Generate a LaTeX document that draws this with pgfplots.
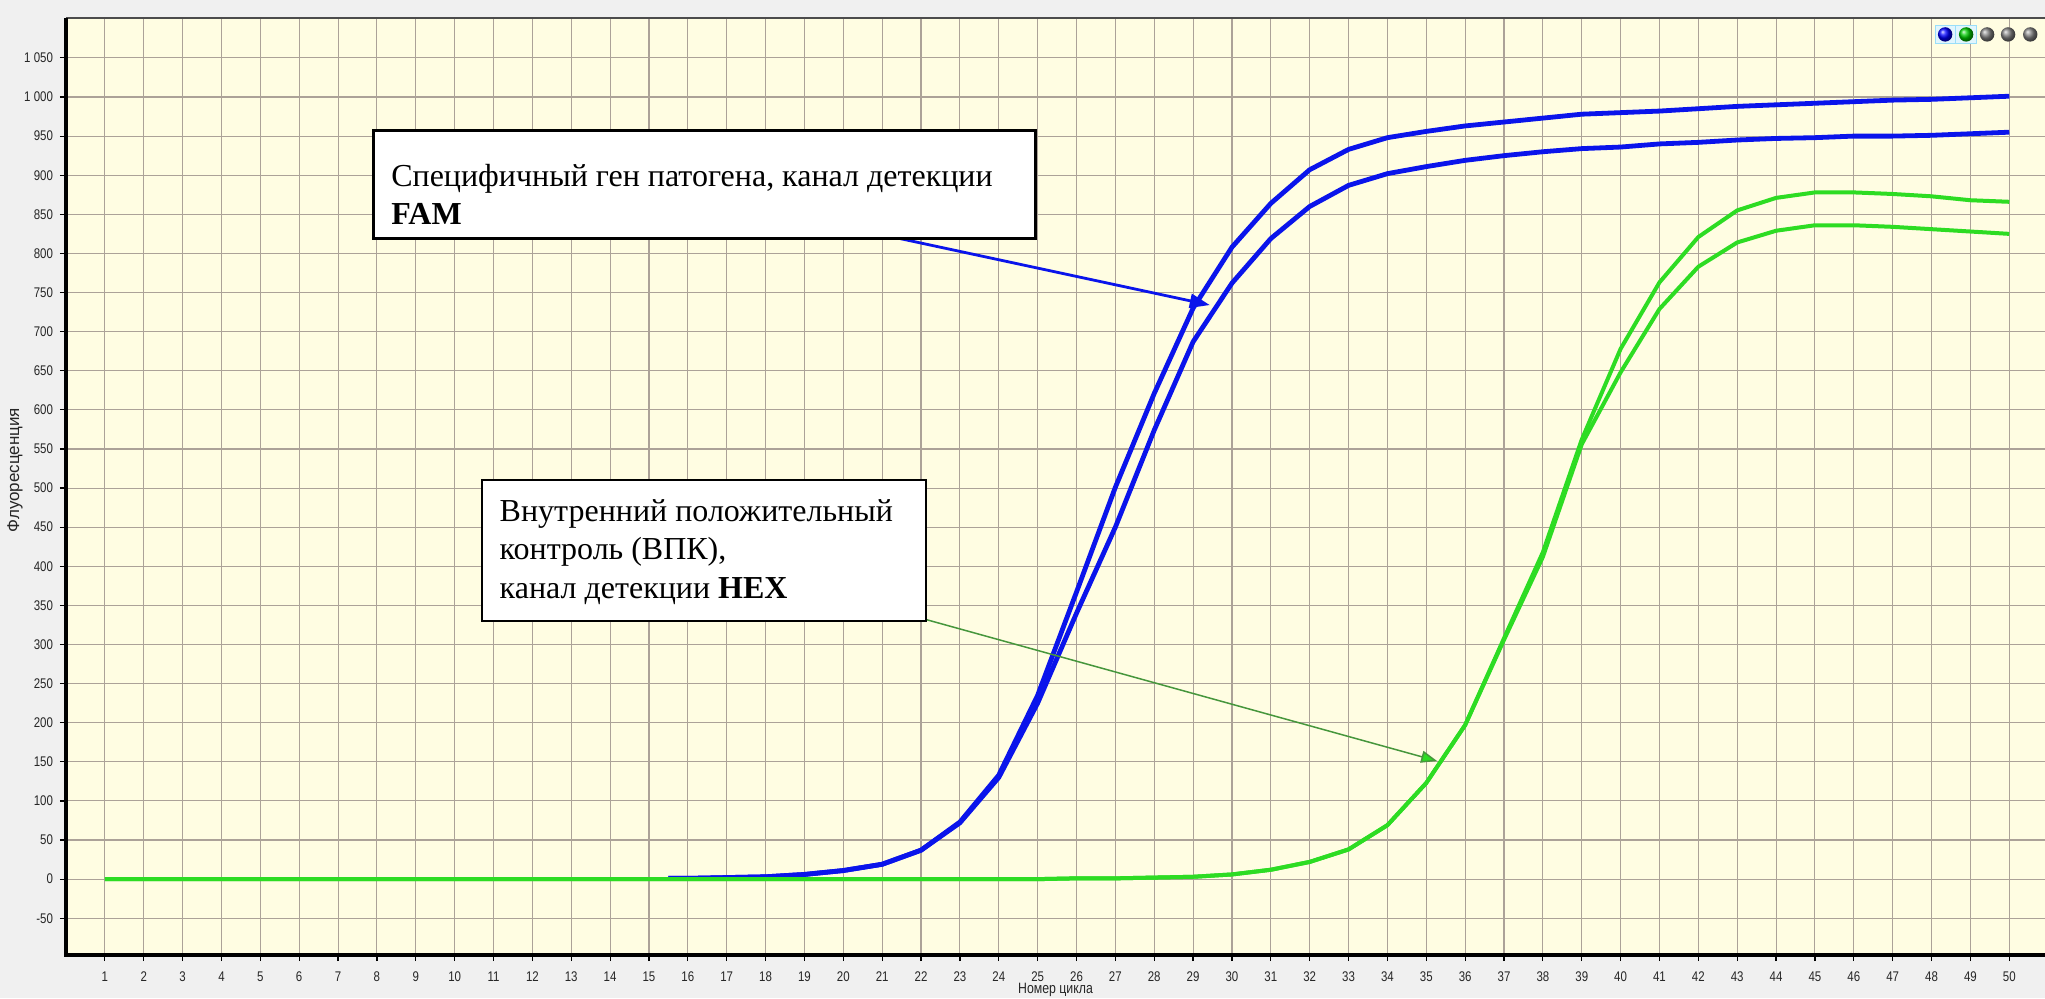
\documentclass[border=0pt]{standalone}
\usepackage{pgfplots}
\pgfplotsset{compat=1.18}
\usepackage{fontspec}
\usetikzlibrary{arrows.meta}
\setmainfont{Liberation Serif}
\newfontfamily\tickfont[FakeStretch=0.82]{Liberation Sans}
\newfontfamily\labfont{Liberation Sans}

\definecolor{pagebg}{RGB}{240,240,240}
\definecolor{plotbg}{RGB}{255,253,226}
\definecolor{gridc}{RGB}{172,162,152}
\definecolor{famblue}{RGB}{10,20,235}
\definecolor{hexgreen}{RGB}{45,220,35}
\definecolor{arrowgreen}{RGB}{70,150,60}

% FAM channel, two samples
\pgfplotstableread{
cycle value
15.5 1
16 1
17 2
18 3
19 6
20 11
21 19
22 37
23 73
24 133
25 235
26 367
27 501
28 621
29 730
30 808
31 864
32 907
33 933
34 948
35 956
36 963
37 968
38 973
39 978
40 980
41 982
42 985
43 988
44 990
45 992
46 994
47 996
48 997
49 999
50 1001
}\famA
\pgfplotstableread{
cycle value
15.5 1
16 1
17 2
18 3
19 6
20 11
21 19
22 37
23 72
24 130
25 225
26 340
27 450
28 574
29 687
30 762
31 819
32 860
33 887
34 902
35 911
36 919
37 925
38 930
39 934
40 936
41 940
42 942
43 945
44 947
45 948
46 950
47 950
48 951
49 953
50 955
}\famB
% HEX channel (internal positive control), two samples
\pgfplotstableread{
cycle value
1 0
2 0
3 0
4 0
5 0
6 0
7 0
8 0
9 0
10 0
11 0
12 0
13 0
14 0
15 0
16 0
17 0
18 0
19 0
20 0
21 0
22 0
23 0
24 0
25 0
26 1
27 1
28 2
29 3
30 6
31 12
32 22
33 38
34 69
35 123
36 197
37 308
38 418
39 562
40 678
41 763
42 821
43 855
44 871
45 878
46 878
47 876
48 873
49 868
50 866
}\hexA
\pgfplotstableread{
cycle value
1 0
2 0
3 0
4 0
5 0
6 0
7 0
8 0
9 0
10 0
11 0
12 0
13 0
14 0
15 0
16 0
17 0
18 0
19 0
20 0
21 0
22 0
23 0
24 0
25 0
26 1
27 1
28 2
29 3
30 6
31 12
32 22
33 38
34 69
35 123
36 197
37 306
38 412
39 556
40 648
41 729
42 783
43 814
44 829
45 836
46 836
47 834
48 831
49 828
50 825
}\hexB

\begin{document}
\begin{tikzpicture}
\fill[pagebg] (0,0) rectangle (1022.5pt,499pt);
\begin{axis}[
  at={(33pt,21.5pt)}, anchor=south west,
  width=989.5pt, height=468.5pt, scale only axis,
  xmin=0, xmax=50.92, ymin=-97, ymax=1101,
  clip=false,
  axis background/.style={fill=plotbg},
  axis line style={draw=none},
  grid=major,
  major grid style={gridc, line width=0.55pt},
  xtick={1,...,50},
  ytick={-50,0,50,...,1050},
  yticklabels={-50,0,50,100,150,200,250,300,350,400,450,500,550,600,650,700,750,800,850,900,950,1 000,1 050},
  xtick pos=left, ytick pos=left,
  tick align=outside, major tick length=3pt,
  tick style={black, line width=0.6pt},
  /pgf/number format/assume math mode=true,
  ticklabel style={font=\tickfont\fontsize{7}{8}\selectfont, text=black!85},
  xticklabel style={yshift=-1.7pt},
  xlabel={Номер цикла},
  ylabel={Флуоресценция},
  every axis x label/.style={at={(axis description cs:0.5,0)}, anchor=center, yshift=-17.5pt, font=\tickfont\fontsize{7.5}{8}\selectfont, text=black!85},
  every axis y label/.style={at={(axis description cs:-0.0258,0.5176)}, rotate=90, anchor=center, font=\labfont\fontsize{8.5}{9}\selectfont, text=black!85},
]
\addplot[famblue, line width=2.4pt, line join=round] table[x=cycle, y=value] {\famA};
\addplot[famblue, line width=2.4pt, line join=round] table[x=cycle, y=value] {\famB};
\addplot[hexgreen, line width=2pt, line join=round] table[x=cycle, y=value] {\hexA};
\addplot[hexgreen, line width=2pt, line join=round] table[x=cycle, y=value] {\hexB};

% frame of the plot area
\draw[black!70, line width=1pt] (rel axis cs:0,1) -- (rel axis cs:1,1);
\draw[black, line width=2pt] (rel axis cs:0,1) -- (rel axis cs:0,0) -- (rel axis cs:1,0);

% channel selector icons
\fill[cyan!12, draw=cyan!40, line width=0.4pt] (axis cs:48.09,1092) rectangle (axis cs:48.62,1069);
\fill[cyan!12, draw=cyan!40, line width=0.4pt] (axis cs:48.62,1092) rectangle (axis cs:49.15,1069);
\shade[ball color=blue] (axis cs:48.35,1080) circle (3.6pt);
\shade[ball color=green!80!black] (axis cs:48.89,1080) circle (3.6pt);
\shade[ball color=gray] (axis cs:49.43,1080) circle (3.6pt);
\shade[ball color=gray] (axis cs:49.97,1080) circle (3.6pt);
\shade[ball color=gray] (axis cs:50.54,1080) circle (3.6pt);

% callout: FAM
\draw[famblue, line width=1.4pt, -{Triangle[length=10pt, width=7pt]}] (axis cs:21.46,819) -- (axis cs:29.43,734);
\draw[black, line width=1.5pt, fill=white] (axis cs:7.9,957.3) rectangle (axis cs:24.94,818.8);
\node[anchor=base west, inner sep=0pt, font=\fontsize{16}{19}\selectfont] at (axis cs:8.36,885.5) {Специфичный ген патогена, канал детекции};
\node[anchor=base west, inner sep=0pt, font=\fontsize{16}{19}\selectfont\bfseries] at (axis cs:8.36,837) {FAM};

% callout: HEX
\draw[arrowgreen, line width=0.75pt, -{Triangle[length=8pt, width=6pt, fill=hexgreen]}] (axis cs:21.99,333.8) -- (axis cs:35.28,151);
\draw[black, line width=1pt, fill=white] (axis cs:10.71,510.2) rectangle (axis cs:22.13,330.3);
\node[anchor=base west, inner sep=0pt, font=\fontsize{16}{19}\selectfont] at (axis cs:11.15,457) {Внутренний положительный};
\node[anchor=base west, inner sep=0pt, font=\fontsize{16}{19}\selectfont] at (axis cs:11.15,408.7) {контроль (ВПК),};
\node[anchor=base west, inner sep=0pt, font=\fontsize{16}{19}\selectfont] at (axis cs:11.15,358.7) {канал детекции \textbf{HEX}};
\end{axis}
\pgfresetboundingbox
\useasboundingbox (0,0) rectangle (1022.5pt,499pt);
\end{tikzpicture}
\end{document}
